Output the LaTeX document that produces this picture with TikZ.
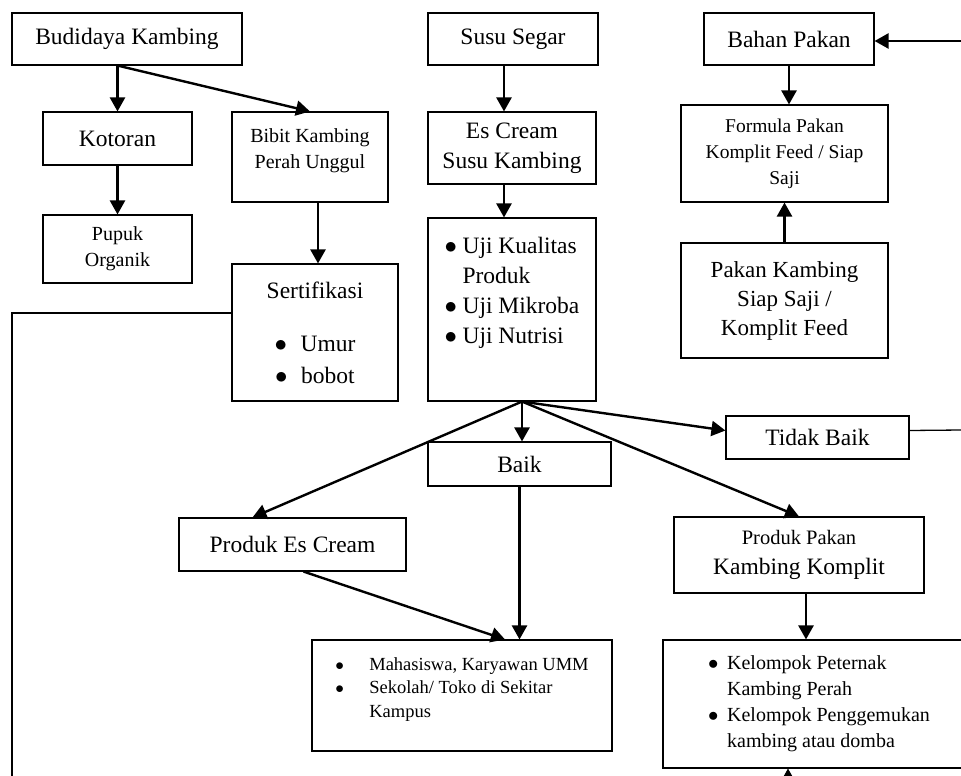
\documentclass[tikz,border=0pt]{standalone}
\usepackage{fontspec}
\setmainfont{Liberation Serif}
\usetikzlibrary{arrows.meta}
\tikzstyle{block} = [rectangle, draw, line width=1.1pt, inner sep=0pt,
    align=center, font=\fontsize{23.5}{30}\selectfont]
\tikzstyle{smalltext} = [font=\fontsize{20}{26}\selectfont]
\tikzstyle{line} = [draw, line width=2.4pt, -{Triangle[length=14pt,width=15pt]}]
\tikzstyle{thinline} = [draw, line width=1.3pt]
\newcommand{\bul}[1]{\makebox[#1][l]{$\bullet$}}

\begin{document}
\begin{tikzpicture}[x=1pt, y=-1pt]
    \useasboundingbox (0,0) rectangle (961,776);
    % Place nodes
    \node [block, minimum width=230, minimum height=52] (budidaya) at (127,39) {Budidaya Kambing};
    \node [block, minimum width=149, minimum height=53] (kotoran) at (117.5,138.5) {Kotoran};
    \node [block, smalltext, minimum width=149, minimum height=68] (pupuk) at (117.5,249) {Pupuk\\Organik};
    \node [block, smalltext, minimum width=156, minimum height=90] (bibit) at (310,157) {Bibit Kambing\\Perah Unggul\\[-10pt]\mbox{}};
    \node [block, minimum width=166, minimum height=137] (sertifikasi) at (315,332.5)
        {Sertifikasi\\[23pt]\bul{26pt}Umur\\[2pt]\bul{26pt}bobot};
    \node [block, minimum width=170, minimum height=52] (susu) at (513,39) {Susu Segar};
    \node [block, minimum width=168, minimum height=72] (escream) at (512,148) {Es Cream\\Susu Kambing};
    \node [block, align=left, minimum width=168, minimum height=183] (uji) at (512,309.5)
        {\bul{18pt}Uji Kualitas\\\hspace*{18pt}Produk\\\bul{18pt}Uji Mikroba\\\bul{18pt}Uji Nutrisi\\[8pt]\mbox{}};
    \node [block, minimum width=170, minimum height=52] (bahan) at (789,39) {Bahan Pakan};
    \node [block, font=\fontsize{19.5}{26}\selectfont, minimum width=207, minimum height=97] (formula) at (784.5,153.5)
        {Formula Pakan\\Komplit Feed / Siap\\Saji};
    \node [block, font=\fontsize{23}{29}\selectfont, minimum width=207, minimum height=115] (pakankambing) at (784.5,300.5)
        {Pakan Kambing\\Siap Saji /\\Komplit Feed};
    \node [block, minimum width=183, minimum height=44] (baik) at (519.5,464) {Baik};
    \node [block, minimum width=183, minimum height=43] (tidakbaik) at (817.5,437.5) {Tidak Baik};
    \node [block, minimum width=227, minimum height=53] (produkes) at (292.5,544.5) {Produk Es Cream};
    \node [block, minimum width=250, minimum height=76] (produkpakan) at (799,555)
        {{\fontsize{20.5}{26}\selectfont Produk Pakan}\\Kambing Komplit};
    \node [block, align=left, font=\fontsize{18.5}{23.5}\selectfont, minimum width=300, minimum height=111] (mahasiswa) at (462,695.5)
        {\bul{34pt}Mahasiswa, Karyawan UMM\\\bul{34pt}Sekolah/ Toko di Sekitar\\\hspace*{34pt}Kampus\\[-7pt]\mbox{}};
    \node [block, smalltext, align=left, minimum width=312, minimum height=128] (kelompok) at (819,704)
        {\bul{19pt}Kelompok Peternak\\\hspace*{19pt}Kambing Perah\\\bul{19pt}Kelompok Penggemukan\\\hspace*{19pt}kambing atau domba};
    % Free ends
    \coordinate (fan) at ([xshift=10pt]uji.south);
    \coordinate (eR1) at (961,41);
    \coordinate (eR2) at (961,430);
    \coordinate (eL) at (12,313);
    \coordinate (eB) at (12,780);
    \coordinate (eK) at (788,780);
    % Draw edges
    \path [line] (kotoran.north |- budidaya.south) -- (kotoran.north);
    \path [line] (kotoran) -- (pupuk);
    \path [line] (kotoran.north |- budidaya.south) -- (bibit.north);
    \path [line] ([xshift=8pt]bibit.south) -- ([xshift=8pt]bibit.south |- sertifikasi.north);
    \path [line] ([xshift=-9pt]susu.south) -- ([xshift=-9pt]susu.south |- escream.north);
    \path [line] ([xshift=-8pt]escream.south) -- ([xshift=-8pt]escream.south |- uji.north);
    \path [line] (bahan.south) -- (bahan.south |- formula.north);
    \path [line] (pakankambing.north) -- (formula.south);
    \path [line] (eR1) -- (bahan.east |- eR1);
%
    \path [line] (fan) -- (fan |- baik.north);
    \path [line] (fan) -- ([yshift=7pt]tidakbaik.west);
    \path [line] (fan) -- ([xshift=-40pt]produkes.north);
    \path [line] (fan) -- (produkpakan.north);
    \path [line] (baik.south) -- (baik.south |- mahasiswa.north);
    \path [line] ([xshift=11pt]produkes.south) -- ([xshift=43pt]mahasiswa.north);
    \path [line] ([xshift=7pt]produkpakan.south) -- ([xshift=7pt]produkpakan.south |- kelompok.north);
%
    \path [thinline] ([yshift=7pt]tidakbaik.east) -- (eR2);
    \path [thinline] (sertifikasi.west |- eL) -- (eL) -- (eB);
    \path [draw, line width=1.3pt, -{Triangle[length=10pt,width=11pt]}] (eK) -- (eK |- kelompok.south);
\end{tikzpicture}
\end{document}
